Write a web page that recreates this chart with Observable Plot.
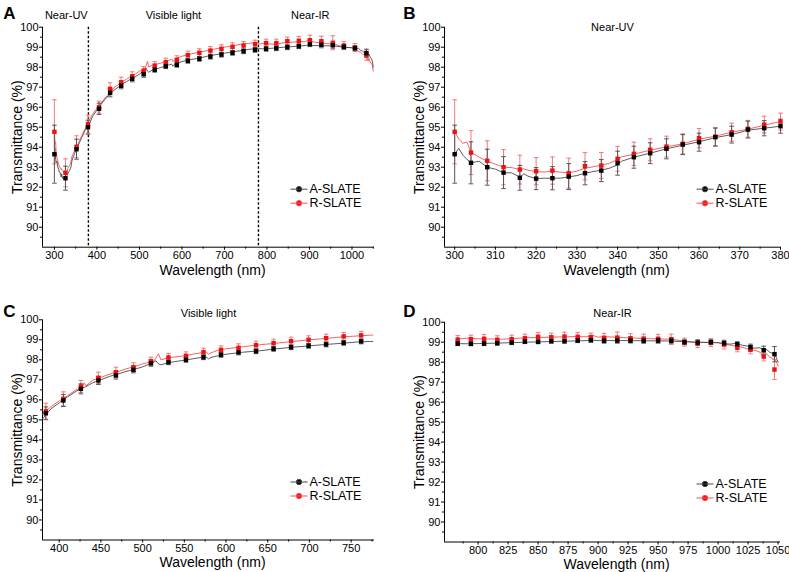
<!DOCTYPE html>
<html><head><meta charset="utf-8">
<script src="https://cdn.jsdelivr.net/npm/d3@7"></script>
<script src="https://cdn.jsdelivr.net/npm/@observablehq/plot@0.6"></script>
<style>
body{margin:0;background:#fff;}
#wrap{position:relative;width:789px;height:572px;overflow:hidden;}
#wrap svg{position:absolute;overflow:visible;}
</style></head><body><div id="wrap"></div>
<script>
// ---- Continuous spectra ----
const lineNm = [300,301,302,303,304,306,308,310,312,314,316,317,318,320,322,324,326,328,330,332,334,336,338,340,341,344,348,352,356,360,364,368,372,376,380,
  390,400,410,420,428,430,432,440,450,460,470,480,490,500,510,514,516,519,522,530,540,550,560,570,576,579,582,590,600,620,640,660,680,700,720,740,760,776,
  782,790,800,820,840,860,880,890,895,900,905,920,940,960,980,1000,1010,1015,1020,1025,1030,1035,1038,1040,1043,1045,1048,1050];
const lineA = [93.65,93.95,93.6,93.4,93.22,93.3,93.0,92.9,92.72,92.72,92.5,92.67,92.55,92.43,92.45,92.45,92.45,92.52,92.58,92.7,92.78,92.85,92.95,93.12,93.3,93.5,93.7,93.92,94.1,94.27,94.48,94.63,94.85,94.95,95.05,
  95.55,95.85,96.15,96.42,96.6,96.62,96.66,96.85,97.0,97.17,97.28,97.42,97.52,97.65,97.82,97.9,97.95,97.8,97.75,97.85,97.92,97.98,98.05,98.12,98.15,98.05,98.12,98.2,98.28,98.38,98.45,98.55,98.63,98.7,98.77,98.83,98.9,98.92,
  98.93,98.92,98.93,98.96,99.0,99.03,99.06,99.08,99.1,99.08,99.08,99.08,99.07,99.06,99.0,98.97,98.9,98.95,98.85,98.8,98.7,98.72,98.6,98.65,98.5,98.45,98.3,98.0];
const lineR = [94.77,94.4,94.2,94.25,93.75,93.5,93.3,93.15,93.0,92.98,92.88,92.92,92.85,92.78,92.76,92.8,92.75,92.72,92.8,92.95,93.02,93.1,93.2,93.38,93.52,93.65,93.85,94.02,94.17,94.4,94.55,94.75,94.9,95.1,95.28,
  95.65,95.95,96.2,96.5,96.62,96.85,96.7,96.98,97.12,97.28,97.4,97.55,97.65,97.8,97.9,97.95,98.1,98.3,98.0,98.1,98.15,98.2,98.28,98.35,98.4,98.28,98.35,98.47,98.55,98.65,98.75,98.83,98.92,99.0,99.07,99.15,99.2,99.24,
  99.15,99.2,99.17,99.15,99.22,99.25,99.28,99.27,99.35,99.25,99.28,99.23,99.18,99.15,99.0,98.98,98.85,98.8,98.75,98.65,98.6,98.5,98.3,98.45,98.25,98.2,98.1,97.8];

// ---- Panel A markers (mean ± error) ----
const aNm = [300,326,352,379,405,431,457,483,510,536,562,588,614,641,667,693,719,745,772,798,822,848,875,901,928,955,981,1007,1034];
const aA  = [93.65,92.45,93.9,95.0,95.92,96.72,97.07,97.42,97.65,97.87,98.05,98.12,98.32,98.42,98.53,98.63,98.72,98.8,98.87,98.92,98.95,99.0,99.05,99.15,99.12,99.1,99.02,98.95,98.7];
const aAe = [1.45,0.6,0.5,0.35,0.28,0.2,0.15,0.15,0.15,0.12,0.12,0.12,0.12,0.12,0.12,0.12,0.12,0.12,0.12,0.12,0.12,0.12,0.12,0.12,0.15,0.15,0.12,0.12,0.2];
const aR  = [94.77,92.72,94.02,95.15,96.0,96.92,97.25,97.55,97.83,98.08,98.25,98.37,98.6,98.72,98.83,98.92,99.02,99.08,99.15,99.2,99.2,99.3,99.32,99.35,99.3,99.22,99.08,98.98,98.6];
const aRe = [1.6,0.7,0.55,0.45,0.3,0.3,0.25,0.22,0.2,0.2,0.2,0.2,0.2,0.2,0.2,0.2,0.2,0.2,0.2,0.2,0.2,0.2,0.22,0.25,0.25,0.35,0.2,0.2,0.25];

// ---- Panel B markers ----
const bNm = [300,304,308,312,316,320,324,328,332,336,340,344,348,352,356,360,364,368,372,376,380];
const bA  = [93.65,93.22,93.0,92.73,92.47,92.43,92.45,92.53,92.7,92.83,93.2,93.5,93.7,93.92,94.13,94.25,94.5,94.63,94.88,94.95,95.05];
const bAe = [1.45,1.05,0.9,0.8,0.62,0.55,0.58,0.65,0.58,0.55,0.6,0.55,0.52,0.5,0.5,0.45,0.45,0.42,0.42,0.38,0.35];
const bR  = [94.77,93.73,93.32,93.0,92.88,92.8,92.83,92.7,93.05,93.08,93.42,93.67,93.87,94.03,94.17,94.45,94.53,94.75,94.92,95.13,95.28];
const bRe = [1.6,1.1,1.0,0.88,0.72,0.68,0.68,0.75,0.68,0.65,0.62,0.58,0.55,0.52,0.5,0.48,0.45,0.45,0.42,0.42,0.42];

// ---- Panel C markers ----
const cNm = [384,405,426,447,468,489,510,531,552,573,594,615,636,657,678,699,720,741,762];
const cA  = [95.33,95.97,96.55,96.97,97.22,97.5,97.83,97.88,98.0,98.13,98.25,98.37,98.43,98.55,98.63,98.7,98.77,98.85,98.92];
const cAe = [0.32,0.3,0.25,0.2,0.18,0.15,0.15,0.12,0.12,0.12,0.12,0.12,0.12,0.12,0.12,0.12,0.12,0.12,0.12];
const cR  = [95.43,96.05,96.67,97.1,97.38,97.63,97.93,98.12,98.2,98.38,98.5,98.6,98.73,98.83,98.93,99.0,99.08,99.17,99.22];
const cRe = [0.4,0.35,0.3,0.28,0.25,0.22,0.2,0.2,0.2,0.2,0.2,0.2,0.2,0.2,0.2,0.2,0.2,0.2,0.2];

// ---- Panel D markers ----
const dNm = [783,794,805,816,828,839,850,861,872,883,894,905,916,927,938,950,961,972,983,994,1005,1016,1027,1038,1047];
const dA  = [98.93,98.92,98.93,98.95,98.98,99.03,99.02,99.05,99.05,99.08,99.1,99.07,99.08,99.08,99.07,99.08,99.07,99.0,98.98,99.0,98.95,98.9,98.75,98.6,98.4];
const dAe = [0.1,0.1,0.1,0.1,0.1,0.1,0.1,0.1,0.1,0.1,0.1,0.12,0.12,0.12,0.12,0.12,0.15,0.12,0.12,0.12,0.12,0.12,0.15,0.2,0.38];
const dR  = [99.13,99.15,99.17,99.12,99.15,99.2,99.27,99.25,99.28,99.27,99.25,99.22,99.23,99.2,99.18,99.17,99.15,99.0,98.93,98.98,98.88,98.72,98.62,98.28,97.63];
const dRe = [0.2,0.2,0.22,0.2,0.2,0.2,0.22,0.2,0.22,0.22,0.2,0.22,0.28,0.22,0.22,0.22,0.25,0.2,0.2,0.2,0.22,0.2,0.2,0.22,0.5];

// ---- Ticks and labels ----
const yTicks = [90,91,92,93,94,95,96,97,98,99,100];
const yMinor = [89.5,90.5,91.5,92.5,93.5,94.5,95.5,96.5,97.5,98.5,99.5];
const aTicks = [300,400,500,600,700,800,900,1000];
const aMinor = [350,450,550,650,750,850,950,1050];
const bTicks = [300,310,320,330,340,350,360,370,380];
const bMinor = [305,315,325,335,345,355,365,375];
const cTicks = [400,450,500,550,600,650,700,750];
const cMinor = [425,475,525,575,625,675,725,775];
const dTicks = [800,825,850,875,900,925,950,975,1000,1025,1050];
const dMinor = [787.5,812.5,837.5,862.5,887.5,912.5,937.5,962.5,987.5,1012.5,1037.5];
const regionBounds = [380,780];
const regionTitles = [{nm:328,label:"Near-UV"},{nm:580,label:"Visible light"},{nm:902,label:"Near-IR"}];
const seriesNames = ["A-SLATE","R-SLATE"];
const xLabel = "Wavelength (nm)";
const yLabel = "Transmittance (%)";

const FONT = "'Liberation Sans', Arial, Helvetica, sans-serif";
const BLACK_LINE = "#4a4a4a", RED_LINE = "#ff4d4d";
const BLACK_BAR = "#555", RED_BAR = "#f47a7a";
const BLACK_PT = "#000", RED_PT = "#ee1111";

const capSymbol = {draw(ctx, size){ const r = Math.sqrt(size/Math.PI); ctx.moveTo(-r,0); ctx.lineTo(r,0); }};
const legendSymbol = {draw(ctx, size){ const r = Math.sqrt(size/Math.PI); ctx.moveTo(-8.5,0); ctx.lineTo(8.5,0); ctx.moveTo(r,0); ctx.arc(0,0,r,0,2*Math.PI); }};

function panel(cfg){
  const spec = lineNm.map((nm,i)=>({nm, a:lineA[i], r:lineR[i]})).filter(d=>d.nm>=cfg.range[0] && d.nm<=cfg.range[1]);
  const mk = cfg.nm.map((nm,i)=>({nm, a:cfg.a[i], ea:cfg.ae[i], r:cfg.r[i], er:cfg.re[i]}));
  const marks = [];
  if (cfg.dashed) marks.push(Plot.ruleX(cfg.dashed, {stroke:"black", strokeWidth:1.4, strokeDasharray:"2.5,2"}));
  marks.push(
    Plot.ruleX([cfg.xDomain[0]], {stroke:"black", strokeWidth:1}),
    Plot.ruleY([89], {stroke:"black", strokeWidth:1}),
    Plot.axisX({ticks:cfg.xTicks, tickSize:3, tickPadding:1, fontSize:11, label:null, tickFormat:d=>String(d)}),
    Plot.axisX({ticks:cfg.xMinor, tickSize:2, label:null, tickFormat:()=>""}),
    Plot.axisY({ticks:yTicks, tickSize:3, tickPadding:1, fontSize:11, label:null, tickFormat:d=>String(d)}),
    Plot.axisY({ticks:yMinor, tickSize:2, label:null, tickFormat:()=>""}),
    Plot.line(spec, {x:"nm", y:"r", stroke:RED_LINE, strokeWidth:0.9}),
    Plot.line(spec, {x:"nm", y:"a", stroke:BLACK_LINE, strokeWidth:0.9}),
    Plot.ruleX(mk, {x:"nm", y1:d=>d.r-d.er, y2:d=>d.r+d.er, stroke:RED_BAR, strokeWidth:1}),
    Plot.dot(mk, {x:"nm", y:d=>d.r+d.er, symbol:capSymbol, r:2.3, stroke:RED_BAR, strokeWidth:1}),
    Plot.dot(mk, {x:"nm", y:d=>d.r-d.er, symbol:capSymbol, r:2.3, stroke:RED_BAR, strokeWidth:1}),
    Plot.ruleX(mk, {x:"nm", y1:d=>d.a-d.ea, y2:d=>d.a+d.ea, stroke:BLACK_BAR, strokeWidth:1}),
    Plot.dot(mk, {x:"nm", y:d=>d.a+d.ea, symbol:capSymbol, r:2.3, stroke:BLACK_BAR, strokeWidth:1}),
    Plot.dot(mk, {x:"nm", y:d=>d.a-d.ea, symbol:capSymbol, r:2.3, stroke:BLACK_BAR, strokeWidth:1}),
    Plot.dot(mk, {x:"nm", y:"r", symbol:"square", r:2.5, fill:RED_PT}),
    Plot.dot(mk, {x:"nm", y:"a", symbol:"square", r:2.5, fill:BLACK_PT}),
    Plot.text([xLabel], {text:d=>d, frameAnchor:"bottom", lineAnchor:"middle", textAnchor:"middle", dx:4, dy:23, fontSize:14}),
    Plot.text([yLabel], {text:d=>d, frameAnchor:"left", lineAnchor:"middle", textAnchor:"middle", dx:-25, rotate:-90, fontSize:14}),
    Plot.text([cfg.letter], {text:d=>d, frameAnchor:"top-left", lineAnchor:"middle", textAnchor:"middle", dx:cfg.letterDx, dy:cfg.letterDy, fontSize:17, fontWeight:"bold"}),
    Plot.dot([seriesNames[0]], {frameAnchor:"bottom-right", dx:-75.5, dy:-58, symbol:legendSymbol, r:2.7, fill:BLACK_PT, stroke:BLACK_LINE, strokeWidth:1}),
    Plot.dot([seriesNames[1]], {frameAnchor:"bottom-right", dx:-75.5, dy:-44, symbol:legendSymbol, r:2.7, fill:RED_PT, stroke:RED_LINE, strokeWidth:1}),
    Plot.text([seriesNames[0]], {text:d=>d, frameAnchor:"bottom-right", lineAnchor:"middle", dx:-65, dy:-58, textAnchor:"start", fontSize:12.5}),
    Plot.text([seriesNames[1]], {text:d=>d, frameAnchor:"bottom-right", lineAnchor:"middle", dx:-65, dy:-44, textAnchor:"start", fontSize:12.5})
  );
  if (cfg.regionTitles) marks.push(Plot.text(cfg.regionTitles, {x:"nm", text:"label", frameAnchor:"top", lineAnchor:"middle", dy:-12, fontSize:11}));
  if (cfg.title) marks.push(Plot.text([cfg.title], {text:d=>d, frameAnchor:"top", lineAnchor:"middle", textAnchor:"middle", dy:cfg.titleDy, fontSize:11}));
  const svg = Plot.plot({
    width:cfg.width, height:cfg.height,
    marginLeft:cfg.ml, marginRight:cfg.mr, marginTop:cfg.mt, marginBottom:cfg.mb,
    style:{fontFamily:FONT, fontSize:"11px", color:"black", background:"transparent"},
    x:{domain:cfg.xDomain},
    y:{domain:[89,100]},
    marks
  });
  svg.style.left = cfg.left + "px";
  svg.style.top = cfg.top + "px";
  document.getElementById("wrap").appendChild(svg);
}

panel({letter:"A", left:0, top:0, width:394, height:290, ml:42, mr:20, mt:26.7, mb:43.3,
  xDomain:[272,1053], xTicks:aTicks, xMinor:aMinor, range:[300,1050],
  nm:aNm, a:aA, ae:aAe, r:aR, re:aRe, dashed:regionBounds, regionTitles:regionTitles,
  letterDx:-33, letterDy:-14});
panel({letter:"B", left:402, top:0, width:387, height:290, ml:42, mr:9, mt:26.7, mb:43.3,
  xDomain:[297.5,380], xTicks:bTicks, xMinor:bMinor, range:[300,380],
  nm:bNm, a:bA, ae:bAe, r:bR, re:bRe, title:"Near-UV", titleDy:0,
  letterDx:-35, letterDy:-14});
panel({letter:"C", left:0, top:292, width:394, height:280, ml:42, mr:20, mt:27.3, mb:32.5,
  xDomain:[380,778], xTicks:cTicks, xMinor:cMinor, range:[380,776],
  nm:cNm, a:cA, ae:cAe, r:cR, re:cRe, title:"Visible light", titleDy:-6,
  letterDx:-33, letterDy:-8});
panel({letter:"D", left:402, top:292, width:387, height:280, ml:42, mr:9, mt:29.7, mb:30.5,
  xDomain:[772,1052], xTicks:dTicks, xMinor:dMinor, range:[782,1050],
  nm:dNm, a:dA, ae:dAe, r:dR, re:dRe, title:"Near-IR", titleDy:-9,
  letterDx:-35, letterDy:-10.7});
</script></body></html>
